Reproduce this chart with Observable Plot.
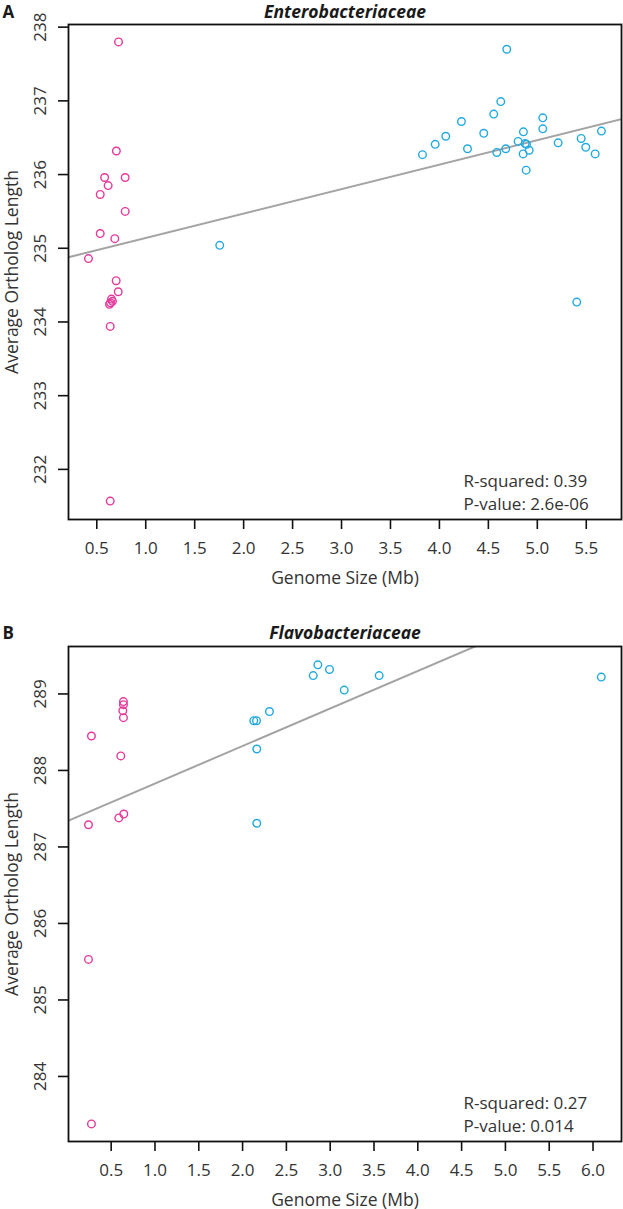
<!DOCTYPE html>
<html>
<head>
<meta charset="utf-8">
<script src="https://cdn.jsdelivr.net/npm/d3@7"></script>
<script src="https://cdn.jsdelivr.net/npm/@observablehq/plot@0.6"></script>
<style>
  html, body { margin: 0; padding: 0; background: #fff; }
  #chart svg { display: block; }
</style>
</head>
<body>
<div id="chart"></div>
<script>
// ---- Panel A: Enterobacteriaceae ----
const entPinkSize = [0.722, 0.70, 0.58, 0.79, 0.616, 0.535, 0.79, 0.535, 0.684, 0.415, 0.698, 0.719, 0.65, 0.66, 0.64, 0.63, 0.637, 0.637];
const entPinkLen  = [237.80, 236.32, 235.96, 235.96, 235.85, 235.73, 235.50, 235.20, 235.13, 234.86, 234.56, 234.41, 234.31, 234.28, 234.26, 234.24, 233.94, 231.57];
const entBlueSize = [1.756, 4.688, 4.627, 4.555, 4.225, 5.056, 5.056, 4.065, 4.453, 4.858, 5.655, 3.957, 5.448, 4.804, 4.876, 4.89, 5.213, 4.287, 4.678, 5.495, 3.827, 4.586, 4.855, 4.917, 5.591, 4.886, 5.403];
const entBlueLen  = [235.04, 237.70, 236.99, 236.82, 236.72, 236.77, 236.62, 236.52, 236.56, 236.58, 236.59, 236.41, 236.49, 236.45, 236.42, 236.41, 236.43, 236.35, 236.35, 236.37, 236.27, 236.30, 236.28, 236.33, 236.28, 236.06, 234.27];
const entXTicks = [0.5, 1.0, 1.5, 2.0, 2.5, 3.0, 3.5, 4.0, 4.5, 5.0, 5.5];
const entYTicks = [232, 233, 234, 235, 236, 237, 238];
const entXDomain = [0.211, 5.86];
const entYDomain = [231.32, 238.036];
const entStats = ["R-squared: 0.39", "P-value: 2.6e-06"];

// ---- Panel B: Flavobacteriaceae ----
const flaPinkSize = [0.64, 0.64, 0.633, 0.64, 0.275, 0.61, 0.644, 0.587, 0.241, 0.241, 0.275];
const flaPinkLen  = [288.90, 288.86, 288.78, 288.69, 288.45, 288.19, 287.43, 287.38, 287.29, 285.53, 283.38];
const flaBlueSize = [2.128, 2.159, 2.307, 2.162, 2.162, 2.806, 2.859, 2.992, 3.16, 3.559, 6.094];
const flaBlueLen  = [288.65, 288.65, 288.77, 288.28, 287.31, 289.24, 289.38, 289.32, 289.05, 289.24, 289.22];
const flaXTicks = [0.5, 1.0, 1.5, 2.0, 2.5, 3.0, 3.5, 4.0, 4.5, 5.0, 5.5, 6.0];
const flaYTicks = [284, 285, 286, 287, 288, 289];
const flaXDomain = [0.013, 6.325];
const flaYDomain = [283.15, 289.62];
const flaStats = ["R-squared: 0.27", "P-value: 0.014"];

const PINK = "#E5399A";
const BLUE = "#22A9E1";
const FONT = "'Open Sans', sans-serif";

function leastSquares(xs, ys) {
  const mx = d3.mean(xs), my = d3.mean(ys);
  let sxy = 0, sxx = 0;
  xs.forEach((x, i) => { sxy += (x - mx) * (ys[i] - my); sxx += (x - mx) ** 2; });
  const slope = sxy / sxx;
  return {intercept: my - slope * mx, slope};
}

function panel(o) {
  const pink = o.pinkX.map((x, i) => ({x, y: o.pinkY[i]}));
  const blue = o.blueX.map((x, i) => ({x, y: o.blueY[i]}));
  const all = pink.concat(blue);
  const f = leastSquares(all.map(d => d.x), all.map(d => d.y));
  const fitLine = o.xDomain.map(x => ({x, y: f.intercept + f.slope * x}));
  return Plot.plot({
    width: 623,
    height: o.height,
    marginLeft: 68,
    marginRight: 2,
    marginTop: o.marginTop,
    marginBottom: o.marginBottom,
    style: {fontFamily: FONT, background: "#fff", color: "#222"},
    x: {domain: o.xDomain},
    y: {domain: o.yDomain},
    marks: [
      Plot.line(fitLine, {x: "x", y: "y", stroke: "#A3A3A3", strokeWidth: 2, clip: true}),
      Plot.dot(pink, {x: "x", y: "y", r: 3.8, stroke: PINK, strokeWidth: 1.4, fill: "none"}),
      Plot.dot(blue, {x: "x", y: "y", r: 3.8, stroke: BLUE, strokeWidth: 1.4, fill: "none"}),
      Plot.frame({stroke: "#111", strokeWidth: 1.8}),
      Plot.axisX({ticks: o.xTicks, tickFormat: d3.format(".1f"), tickSize: 10, tickPadding: 12, label: null,
        fontSize: 17, stroke: "#111", strokeWidth: 1.6, fill: "#333"}),
      Plot.axisX({ticks: [], label: "Genome Size (Mb)", labelAnchor: "center", labelArrow: "none",
        labelOffset: 64, fontSize: 17.5, fill: "#333"}),
      Plot.axisY({ticks: o.yTicks, tickFormat: d3.format("d"), tickSize: 10, tickPadding: 13, tickRotate: -90, label: null,
        fontSize: 17, stroke: "#111", strokeWidth: 1.6, fill: "#333"}),
      Plot.axisY({ticks: [], label: "Average Ortholog Length", labelAnchor: "center", labelArrow: "none",
        labelOffset: 63, fontSize: 17.5, fill: "#333"}),
      Plot.text([o.title], {frameAnchor: "top", lineAnchor: "bottom", dy: o.titleDy,
        fontSize: 17.5, fontWeight: "bold", fontStyle: "italic", fill: "#1a1a1a"}),
      Plot.text([o.letter], {frameAnchor: "top-left", textAnchor: "start", lineAnchor: "bottom", dx: -66, dy: o.titleDy,
        fontSize: 17, fontWeight: "bold", fill: "#1a1a1a"}),
      Plot.text([o.stats.join("\n")], {frameAnchor: "bottom-right", textAnchor: "start", lineAnchor: "bottom",
        dx: -158, dy: -10, lineHeight: 1.35, fontSize: 17, fill: "#333"})
    ]
  });
}

const chart = document.getElementById("chart");
chart.append(panel({
  letter: "A", title: "Enterobacteriaceae",
  pinkX: entPinkSize, pinkY: entPinkLen, blueX: entBlueSize, blueY: entBlueLen,
  xTicks: entXTicks, yTicks: entYTicks, xDomain: entXDomain, yDomain: entYDomain, stats: entStats,
  height: 600, marginTop: 24, marginBottom: 81, titleDy: -7
}));
chart.append(panel({
  letter: "B", title: "Flavobacteriaceae",
  pinkX: flaPinkSize, pinkY: flaPinkLen, blueX: flaBlueSize, blueY: flaBlueLen,
  xTicks: flaXTicks, yTicks: flaYTicks, xDomain: flaXDomain, yDomain: flaYDomain, stats: flaStats,
  height: 609, marginTop: 46, marginBottom: 68, titleDy: -8
}));
</script>
</body>
</html>
